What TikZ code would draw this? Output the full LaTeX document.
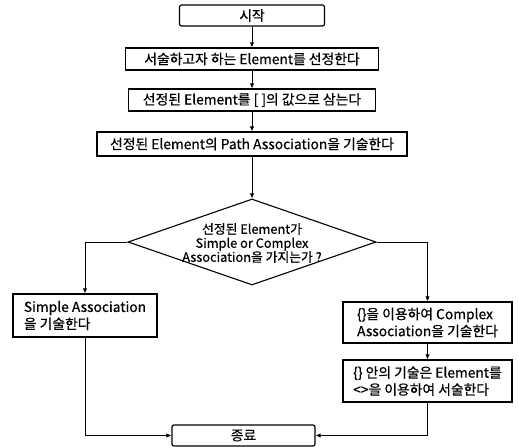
\documentclass[tikz,border=0pt]{standalone}
\usepackage{fontspec}
\setmainfont[FakeBold=0.6]{Noto Sans CJK KR}
\usetikzlibrary{shapes.geometric,arrows.meta}
\tikzset{
  box/.style={draw, line width=1.2pt, rectangle, inner sep=2pt, font=\fontsize{13.8}{17}\selectfont},
  term/.style={box, rounded corners=2pt},
  lbox/.style={box, align=left, inner xsep=3pt},
  dec/.style={draw, line width=1.1pt, diamond, inner sep=0pt},
  arr/.style={line width=0.9pt, -{Latex[length=5pt,width=4.5pt]}},
}
\begin{document}
\begin{tikzpicture}[x=1pt,y=-1pt]
\useasboundingbox (0,0) rectangle (518,446);
\node[term, minimum width=145pt, minimum height=21pt] (start) at (252,15.5) {시작};
\node[box, minimum width=253pt, minimum height=22pt] (b2) at (252,59) {서술하고자 하는 Element를 선정한다};
\node[box, minimum width=247pt, minimum height=22pt] (b3) at (252,100) {선정된 Element를 [ ]의 값으로 삼는다};
\node[box, minimum width=310pt, minimum height=24pt] (b4) at (252,144) {선정된 Element의 Path Association을 기술한다};
\node[dec, minimum width=248pt, minimum height=86pt] (dia) at (252,242) {};
\node[align=center, font=\fontsize{12.8}{14}\selectfont, inner sep=0pt] (diat) at (252,243) {선정된 Element가\\Simple or Complex\\Association을 가지는가 ?};
\node[lbox, minimum width=144pt, minimum height=43pt] (lb) at (85,315.5) {Simple Association\\을 기술한다};
\node[lbox, minimum width=169pt, minimum height=41pt] (rb1) at (427.5,322.5) {\{\}을 이용하여 Complex\\Association을 기술한다};
\node[lbox, minimum width=169pt, minimum height=42pt] (rb2) at (427.5,381) {\{\} 안의 기술은 Element를\\<>을 이용하여 서술한다};
\node[term, minimum width=143pt, minimum height=21pt] (end) at (243.5,435.5) {종료};
\draw[arr] (start) -- (b2);
\draw[arr] (b2) -- (b3);
\draw[arr] (b3) -- (b4);
\draw[arr] (b4) -- (dia);
\draw[arr] (dia.west) -| (lb.north);
\draw[arr] (dia.east) -| (rb1.north);
\draw[arr] (rb1) -- (rb2);
\draw[arr] (lb.south) |- (end.west);
\draw[arr] (rb2.south) |- (end.east);
\end{tikzpicture}
\end{document}
